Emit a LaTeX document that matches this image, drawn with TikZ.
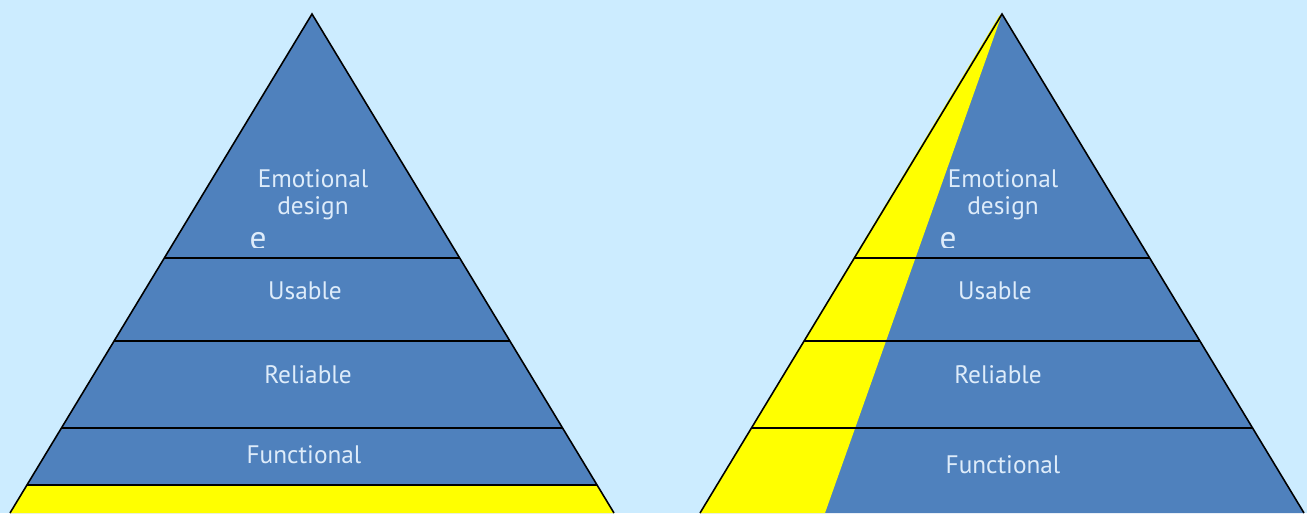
\documentclass[tikz,border=0pt]{standalone}
\usepackage{fontspec}
\setmainfont{PT Sans}
\usepackage{tikz}
\usetikzlibrary{positioning}
\definecolor{SkyBack}{RGB}{204,236,255}
\definecolor{LayerBlue}{RGB}{79,129,189}
\definecolor{LabelText}{RGB}{222,236,250}
\definecolor{Highlight}{RGB}{255,255,0}

\begin{document}
\begin{tikzpicture}[
  x=0.2mm, y=-0.2mm,
  layertext/.style={text=LabelText, font=\fontsize{14.4}{15.4}\selectfont,
    align=center, inner sep=0pt},
  stubtext/.style={text=LabelText, font=\fontsize{19}{19}\selectfont,
    inner sep=0pt, anchor=base},
  layerline/.style={draw=black, line width=1.3pt},
  edgeline/.style={draw=black, line width=0.9pt}
]
\fill[SkyBack] (0,0) rectangle (1307,513);
\useasboundingbox (0,0) rectangle (1307,513);
\clip (0,0) rectangle (1307,513);

\fill[LayerBlue] (312,14) -- (10,513) -- (614,513) -- cycle;
\fill[Highlight] (27,485) -- (597,485) -- (614,513) -- (10,513) -- cycle;
\draw[layerline] (164.4,258) -- (459.6,258);
\draw[layerline] (114.2,341) -- (509.8,341);
\draw[layerline] (61.5,428) -- (562.5,428);
\draw[layerline] (27,485) -- (597,485);
\draw[edgeline] (10,513) -- (312,14) -- (614,513);
\node[layertext] (emotionalL) at (313,195) {Emotional\\design};
\begin{scope}
\clip (240,220) rectangle (280,247);
\node[stubtext] (stubL) at (258,249) {e};
\end{scope}
\node[layertext] (usableL) at (305,291) {Usable};
\node[layertext] (reliableL) at (308,375) {Reliable};
\node[layertext] (functionalL) at (304,455) {Functional};

\fill[LayerBlue] (1002,14) -- (700,513) -- (1304,513) -- cycle;
\fill[Highlight] (999,16) -- (700,513) -- (825,513) -- (1002,14) -- cycle;
\draw[layerline] (854.4,258) -- (1149.6,258);
\draw[layerline] (804.2,341) -- (1199.8,341);
\draw[layerline] (751.5,428) -- (1252.5,428);
\draw[edgeline] (700,513) -- (1002,14) -- (1304,513);
\node[layertext] (emotionalR) at (1003,195) {Emotional\\design};
\begin{scope}
\clip (930,220) rectangle (970,247);
\node[stubtext] (stubR) at (948,249) {e};
\end{scope}
\node[layertext] (usableR) at (995,291) {Usable};
\node[layertext] (reliableR) at (998,375) {Reliable};
\node[layertext] (functionalR) at (1003,465) {Functional};
\end{tikzpicture}
\end{document}
